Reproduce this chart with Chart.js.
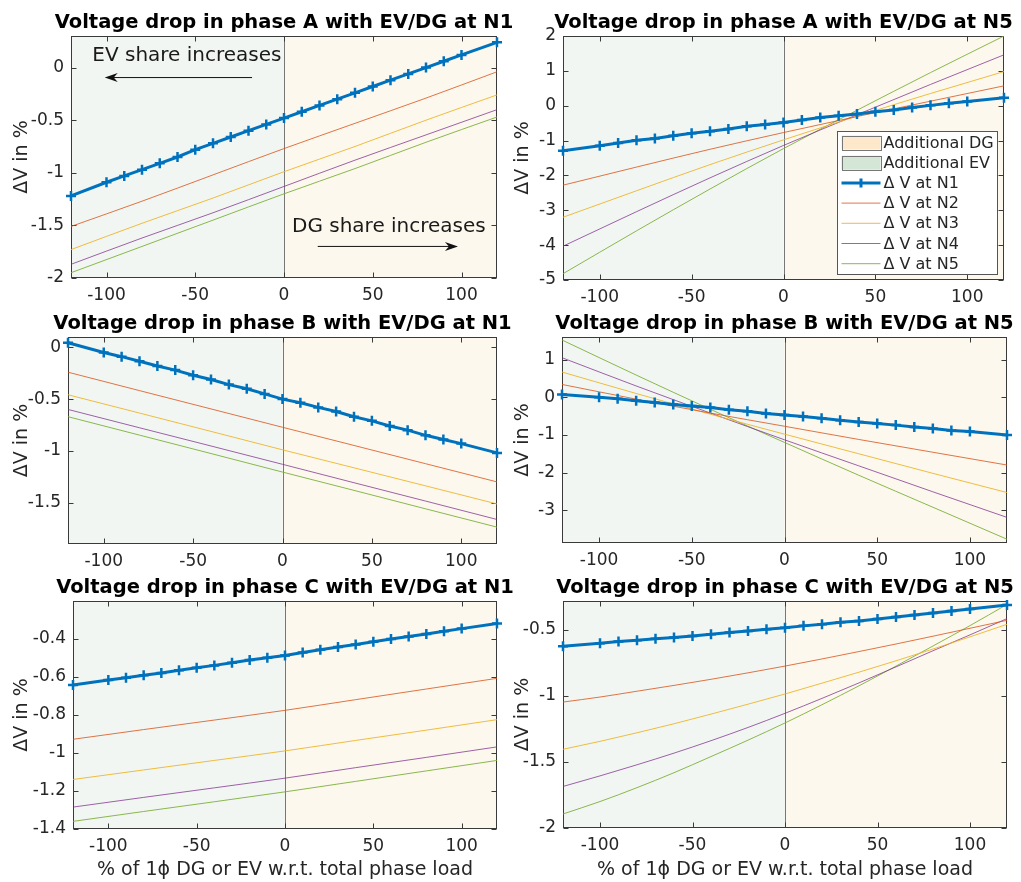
<!DOCTYPE html>
<html>
<head>
<meta charset="utf-8">
<script src="https://cdn.jsdelivr.net/npm/chart.js@4.4.0/dist/chart.umd.min.js"></script>
<style>
  body { margin: 0; background: #fff; width: 1021px; height: 882px; overflow: hidden; position: relative; }
  canvas { position: absolute; }
</style>
</head>
<body>
<canvas id="c-a1"></canvas>
<canvas id="c-a5"></canvas>
<canvas id="c-b1"></canvas>
<canvas id="c-b5"></canvas>
<canvas id="c-c1"></canvas>
<canvas id="c-c5"></canvas>
<script>
// x positions: marked N1 curve, the thin N2..N5 curves, and the denser bent curves of phase C / N5
const X_MARK = [-120, -100, -90, -80, -70, -60, -50, -40, -30, -20, -10, 0, 10, 20, 30, 40, 50, 60, 70, 80, 90, 100, 120];
const X_THIN = [-120, -80, -40, 0, 40, 80, 120];
const X_CURVE = [-120, -100, -80, -60, -40, -20, 0, 20, 40, 60, 80, 100, 120];
const X_TICKS = [-100, -50, 0, 50, 100];
const NODE_LABELS = ['Δ V at N1', 'Δ V at N2', 'Δ V at N3', 'Δ V at N4', 'Δ V at N5'];
const NODE_COLORS = ['#0072BD', 'rgba(217,83,25,0.8)', 'rgba(237,177,32,0.85)', 'rgba(126,47,142,0.75)', 'rgba(119,172,48,0.85)'];

// phase A, EV/DG at N1
const A1_N1 = [-1.22, -1.09, -1.03, -0.97, -0.91, -0.85, -0.78, -0.72, -0.66, -0.60, -0.54, -0.48, -0.42, -0.36, -0.30, -0.24, -0.18, -0.12, -0.06, 0.00, 0.06, 0.12, 0.24];
const A1_N2 = [-1.51, -1.27, -1.02, -0.77, -0.53, -0.29, -0.04];
const A1_N3 = [-1.73, -1.48, -1.24, -0.99, -0.75, -0.50, -0.26];
const A1_N4 = [-1.87, -1.62, -1.38, -1.13, -0.88, -0.64, -0.40];
const A1_N5 = [-1.95, -1.70, -1.45, -1.20, -0.96, -0.71, -0.47];
const A1_YTICKS = [-2, -1.5, -1, -0.5, 0];

// phase A, EV/DG at N5
const A5_N1 = [-1.29, -1.15, -1.07, -0.99, -0.94, -0.86, -0.79, -0.73, -0.67, -0.59, -0.54, -0.48, -0.41, -0.34, -0.29, -0.24, -0.17, -0.12, -0.05, 0.01, 0.07, 0.12, 0.23];
const A5_N2 = [-2.28, -1.76, -1.25, -0.77, -0.31, 0.13, 0.57];
const A5_N3 = [-3.20, -2.44, -1.69, -0.98, -0.30, 0.35, 0.98];
const A5_N4 = [-4.03, -3.04, -2.07, -1.14, -0.26, 0.61, 1.46];
const A5_N5 = [-4.82, -3.59, -2.39, -1.23, -0.13, 0.95, 2.00];
const A5_YTICKS = [-5, -4, -3, -2, -1, 0, 1, 2];

// phase B, EV/DG at N1
const B1_N1 = [0.045, -0.05, -0.09, -0.135, -0.18, -0.22, -0.27, -0.31, -0.36, -0.40, -0.45, -0.50, -0.535, -0.58, -0.62, -0.67, -0.71, -0.76, -0.80, -0.85, -0.89, -0.93, -1.02];
const B1_N2 = [-0.24, -0.418, -0.595, -0.772, -0.948, -1.124, -1.30];
const B1_N3 = [-0.458, -0.635, -0.812, -0.99, -1.164, -1.338, -1.513];
const B1_N4 = [-0.60, -0.777, -0.953, -1.13, -1.308, -1.485, -1.663];
const B1_N5 = [-0.67, -0.848, -1.026, -1.205, -1.382, -1.56, -1.737];
const B1_YTICKS = [-1.5, -1, -0.5, 0];

// phase B, EV/DG at N5
const B5_N1 = [0.07, 0.0, -0.04, -0.09, -0.14, -0.19, -0.23, -0.27, -0.33, -0.37, -0.43, -0.47, -0.51, -0.56, -0.61, -0.66, -0.70, -0.74, -0.79, -0.83, -0.88, -0.91, -1.00];
const B5_N2 = [0.34, -0.05, -0.42, -0.77, -1.12, -1.46, -1.80];
const B5_N3 = [0.67, 0.10, -0.45, -0.98, -1.50, -2.02, -2.53];
const B5_N4 = [1.05, 0.30, -0.42, -1.13, -1.82, -2.51, -3.19];
const B5_N5 = [1.52, 0.59, -0.32, -1.20, -2.07, -2.92, -3.77];
const B5_YTICKS = [-3, -2, -1, 0, 1];

// phase C, EV/DG at N1
const C1_N1 = [-0.644, -0.618, -0.606, -0.593, -0.581, -0.567, -0.554, -0.541, -0.527, -0.513, -0.501, -0.489, -0.473, -0.459, -0.445, -0.431, -0.417, -0.403, -0.389, -0.376, -0.362, -0.348, -0.321];
const C1_N2 = [-0.929, -0.878, -0.828, -0.777, -0.721, -0.665, -0.609];
const C1_N3 = [-1.140, -1.090, -1.040, -0.990, -0.935, -0.881, -0.826];
const C1_N4 = [-1.285, -1.234, -1.184, -1.133, -1.078, -1.024, -0.969];
const C1_N5 = [-1.360, -1.308, -1.257, -1.205, -1.150, -1.095, -1.040];
const C1_YTICKS = [-1.4, -1.2, -1, -0.8, -0.6, -0.4];

// phase C, EV/DG at N5 (thin curves read on X_CURVE)
const C5_N1 = [-0.626, -0.603, -0.59, -0.58, -0.57, -0.56, -0.548, -0.535, -0.523, -0.51, -0.497, -0.487, -0.472, -0.46, -0.445, -0.435, -0.42, -0.405, -0.39, -0.374, -0.359, -0.344, -0.314];
const C5_N2 = [-1.048, -1.010, -0.966, -0.922, -0.876, -0.827, -0.776, -0.722, -0.666, -0.609, -0.550, -0.490, -0.430];
const C5_N3 = [-1.405, -1.345, -1.280, -1.212, -1.139, -1.064, -0.987, -0.905, -0.822, -0.736, -0.647, -0.555, -0.460];
const C5_N4 = [-1.686, -1.606, -1.522, -1.434, -1.340, -1.240, -1.133, -1.020, -0.903, -0.782, -0.660, -0.540, -0.417];
const C5_N5 = [-1.894, -1.800, -1.695, -1.582, -1.460, -1.336, -1.206, -1.068, -0.925, -0.776, -0.624, -0.470, -0.310];
const C5_YTICKS = [-2, -1.5, -1, -0.5];

const X_LABEL = '% of 1ϕ DG or EV w.r.t. total phase load';
const Y_LABEL = 'ΔV in %';

const FONT = 'DejaVu Sans';
const INK = '#262626';
const BG_EV = '#f2f6f2';
const BG_DG = '#fcf8ee';
const PATCH_DG = '#fde8cc';
const PATCH_EV = '#d4e6d6';

// shaded halves, zero line, box with inward ticks, title, legend, notes
const panelDeco = {
  id: 'panelDeco',
  beforeDatasetsDraw(chart, args, opts) {
    const { ctx, chartArea: a, scales: { x, y } } = chart;
    const x0 = x.getPixelForValue(0);
    ctx.save();
    ctx.fillStyle = BG_EV;
    ctx.fillRect(a.left, a.top, x0 - a.left, a.bottom - a.top);
    ctx.fillStyle = BG_DG;
    ctx.fillRect(x0, a.top, a.right - x0, a.bottom - a.top);
    ctx.strokeStyle = '#777';
    ctx.lineWidth = 1;
    ctx.beginPath();
    ctx.moveTo(Math.round(x0) + 0.5, a.top);
    ctx.lineTo(Math.round(x0) + 0.5, a.bottom);
    ctx.stroke();

    ctx.strokeStyle = '#3a3a3a';
    const l = Math.round(a.left) + 0.5, r = Math.round(a.right) - 0.5;
    const t = Math.round(a.top) + 0.5, b = Math.round(a.bottom) - 0.5;
    ctx.strokeRect(l, t, r - l, b - t);
    ctx.beginPath();
    x.ticks.forEach((tk) => {
      const px = Math.round(x.getPixelForValue(tk.value)) + 0.5;
      ctx.moveTo(px, b); ctx.lineTo(px, b - 5);
      ctx.moveTo(px, t); ctx.lineTo(px, t + 5);
    });
    y.ticks.forEach((tk) => {
      const py = Math.round(y.getPixelForValue(tk.value)) + 0.5;
      ctx.moveTo(l, py); ctx.lineTo(l + 5, py);
      ctx.moveTo(r, py); ctx.lineTo(r - 5, py);
    });
    ctx.stroke();
    ctx.restore();
  },
  afterDatasetsDraw(chart, args, opts) {
    const { ctx, chartArea: a, scales: { x, y } } = chart;
    ctx.save();
    ctx.fillStyle = '#000';
    ctx.font = `bold 19.5px "${FONT}"`;
    ctx.textAlign = 'center';
    ctx.textBaseline = 'alphabetic';
    ctx.fillText(opts.title, (a.left + a.right) / 2, a.top - 8);

    if (opts.notes) {
      ctx.font = `20px "${FONT}"`;
      ctx.fillStyle = '#1a1a1a';
      ctx.textAlign = 'left';
      ctx.textBaseline = 'middle';
      ctx.fillText('EV share increases', x.getPixelForValue(-108), y.getPixelForValue(0.11));
      ctx.fillText('DG share increases', x.getPixelForValue(4.5), y.getPixelForValue(-1.51));
      arrow(ctx, x.getPixelForValue(-18), x.getPixelForValue(-101), y.getPixelForValue(-0.095));
      arrow(ctx, x.getPixelForValue(19), x.getPixelForValue(98), y.getPixelForValue(-1.70));
    }

    if (opts.legend) {
      const bw = 160, bh = 143;
      const bx = Math.round(a.right - 7 - bw) + 0.5, by = Math.round(a.top + 95) + 0.5;
      ctx.fillStyle = '#fff';
      ctx.fillRect(bx, by, bw, bh);
      ctx.strokeStyle = '#555';
      ctx.lineWidth = 1;
      ctx.strokeRect(bx, by, bw, bh);
      const rowH = 20.2;
      const items = [
        { text: 'Additional DG', patch: PATCH_DG },
        { text: 'Additional EV', patch: PATCH_EV },
        ...NODE_LABELS.map((t, i) => ({ text: t, color: NODE_COLORS[i], marker: i === 0 }))
      ];
      ctx.font = `16px "${FONT}"`;
      ctx.textAlign = 'left';
      ctx.textBaseline = 'middle';
      items.forEach((it, i) => {
        const cy = by + 11 + i * rowH;
        const sx = bx + 4, ex = bx + 43;
        if (it.patch) {
          ctx.fillStyle = it.patch;
          ctx.fillRect(sx, cy - 7, ex - sx, 14);
          ctx.strokeStyle = '#777';
          ctx.strokeRect(Math.round(sx) + 0.5, Math.round(cy - 7) + 0.5, ex - sx, 14);
        } else {
          ctx.strokeStyle = it.color;
          ctx.lineWidth = it.marker ? 3 : 1;
          ctx.beginPath();
          ctx.moveTo(sx, cy); ctx.lineTo(ex, cy);
          if (it.marker) {
            const mx = (sx + ex) / 2;
            ctx.moveTo(mx - 4.5, cy); ctx.lineTo(mx + 4.5, cy);
            ctx.moveTo(mx, cy - 4.5); ctx.lineTo(mx, cy + 4.5);
          }
          ctx.stroke();
          ctx.lineWidth = 1;
        }
        ctx.fillStyle = INK;
        ctx.fillText(it.text, ex + 3, cy + 1);
      });
    }
    ctx.restore();
  }
};

function arrow(ctx, fromX, toX, yy) {
  const dir = Math.sign(toX - fromX);
  ctx.strokeStyle = '#111';
  ctx.fillStyle = '#111';
  ctx.lineWidth = 1;
  ctx.beginPath();
  ctx.moveTo(fromX, yy);
  ctx.lineTo(toX - dir * 6, yy);
  ctx.stroke();
  ctx.beginPath();
  ctx.moveTo(toX, yy);
  ctx.lineTo(toX - dir * 13, yy - 4.5);
  ctx.lineTo(toX - dir * 9, yy);
  ctx.lineTo(toX - dir * 13, yy + 4.5);
  ctx.closePath();
  ctx.fill();
}

Chart.register(panelDeco);

function makePanel(cfg) {
  const canvas = document.getElementById(cfg.id);
  const width = cfg.colRight - cfg.colLeft;
  const top = cfg.T - 36;
  const height = (cfg.B - cfg.T) + 36 + cfg.xh;
  canvas.width = width;
  canvas.height = height;
  canvas.style.left = cfg.colLeft + 'px';
  canvas.style.top = top + 'px';
  canvas.style.width = width + 'px';
  canvas.style.height = height + 'px';

  const thinX = cfg.thinX || X_THIN;
  const thin = cfg.thin.map((vals, i) => ({
    label: NODE_LABELS[i + 1],
    data: thinX.map((xv, k) => ({ x: xv, y: vals[k] })),
    borderColor: NODE_COLORS[i + 1],
    borderWidth: 1,
    pointRadius: 0,
    cubicInterpolationMode: 'monotone',
    order: 2
  }));
  const main = {
    label: NODE_LABELS[0],
    data: X_MARK.map((xv, k) => ({ x: xv, y: cfg.n1[k] })),
    borderColor: NODE_COLORS[0],
    backgroundColor: NODE_COLORS[0],
    borderWidth: 3,
    pointStyle: 'cross',
    pointRadius: 5,
    pointBorderWidth: 2.5,
    pointBorderColor: NODE_COLORS[0],
    clip: false,
    order: 1
  };

  new Chart(canvas, {
    type: 'line',
    data: { datasets: [main, ...thin] },
    options: {
      responsive: false,
      animation: false,
      devicePixelRatio: 1,
      layout: { padding: { top: 36, left: 0, bottom: 0, right: width - (cfg.R - cfg.colLeft) } },
      plugins: {
        legend: { display: false },
        tooltip: { enabled: false },
        panelDeco: { title: cfg.title, legend: !!cfg.legend, notes: !!cfg.notes }
      },
      scales: {
        x: {
          type: 'linear',
          min: -120,
          max: 120,
          afterBuildTicks: (s) => { s.ticks = X_TICKS.map((v) => ({ value: v })); },
          afterFit: (s) => { s.height = cfg.xh; },
          grid: { display: false, drawTicks: false },
          border: { display: false },
          ticks: { color: INK, font: { family: FONT, size: 17 }, padding: 7, maxRotation: 0, autoSkip: false, callback: (v) => String(v) },
          title: {
            display: !!cfg.xlabel,
            text: X_LABEL,
            color: INK,
            font: { family: FONT, size: 19 },
            padding: { top: 0, bottom: 1 }
          }
        },
        y: {
          type: 'linear',
          min: cfg.ymin,
          max: cfg.ymax,
          afterBuildTicks: (s) => { s.ticks = cfg.yticks.map((v) => ({ value: v })); },
          afterFit: (s) => { s.width = cfg.L - cfg.colLeft; },
          grid: { display: false, drawTicks: false },
          border: { display: false },
          ticks: { color: INK, font: { family: FONT, size: 17 }, padding: 7, autoSkip: false, callback: (v) => String(v) },
          title: {
            display: true,
            text: Y_LABEL,
            color: INK,
            font: { family: FONT, size: 19 },
            padding: { top: cfg.ylabPad, bottom: 0 }
          }
        }
      }
    }
  });
}

makePanel({ id: 'c-a1', colLeft: 0, colRight: 520, L: 71, R: 497, T: 36, B: 278, xh: 26, ylabPad: 10.5,
  title: 'Voltage drop in phase A with EV/DG at N1', n1: A1_N1, thin: [A1_N2, A1_N3, A1_N4, A1_N5],
  ymin: -2, ymax: 0.3, yticks: A1_YTICKS, notes: true });
makePanel({ id: 'c-a5', colLeft: 505, colRight: 1021, L: 563, R: 1004, T: 36, B: 280, xh: 24, ylabPad: 7,
  title: 'Voltage drop in phase A with EV/DG at N5', n1: A5_N1, thin: [A5_N2, A5_N3, A5_N4, A5_N5],
  ymin: -5, ymax: 2, yticks: A5_YTICKS, legend: true });
makePanel({ id: 'c-b1', colLeft: 0, colRight: 520, L: 68, R: 497, T: 337, B: 544, xh: 26, ylabPad: 10.5,
  title: 'Voltage drop in phase B with EV/DG at N1', n1: B1_N1, thin: [B1_N2, B1_N3, B1_N4, B1_N5],
  ymin: -1.9, ymax: 0.1, yticks: B1_YTICKS });
makePanel({ id: 'c-b5', colLeft: 505, colRight: 1021, L: 562, R: 1007, T: 337, B: 543, xh: 26, ylabPad: 7,
  title: 'Voltage drop in phase B with EV/DG at N5', n1: B5_N1, thin: [B5_N2, B5_N3, B5_N4, B5_N5],
  ymin: -3.87, ymax: 1.6, yticks: B5_YTICKS });
makePanel({ id: 'c-c1', colLeft: 0, colRight: 520, L: 73, R: 497, T: 601, B: 829, xh: 53, ylabPad: 10.5,
  title: 'Voltage drop in phase C with EV/DG at N1', n1: C1_N1, thin: [C1_N2, C1_N3, C1_N4, C1_N5],
  ymin: -1.4, ymax: -0.203, yticks: C1_YTICKS, xlabel: true });
makePanel({ id: 'c-c5', colLeft: 505, colRight: 1021, L: 563, R: 1007, T: 601, B: 828, xh: 54, ylabPad: 7,
  title: 'Voltage drop in phase C with EV/DG at N5', n1: C5_N1, thin: [C5_N2, C5_N3, C5_N4, C5_N5], thinX: X_CURVE,
  ymin: -2, ymax: -0.284, yticks: C5_YTICKS, xlabel: true });
</script>
</body>
</html>
